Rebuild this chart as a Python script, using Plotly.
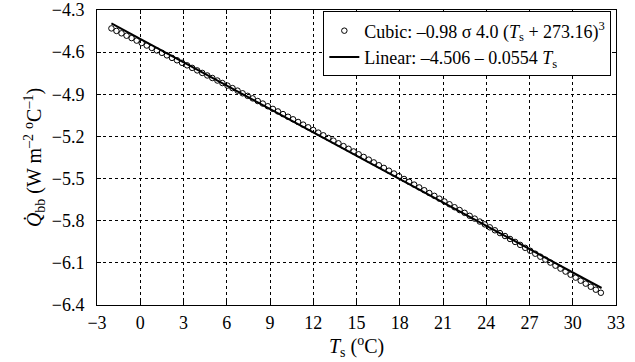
import plotly.graph_objects as go

# Surface temperature (degC) for the cubic points
ts_cubic = [
    -2.00, -1.65, -1.30, -0.95, -0.60, -0.25, 0.10, 0.45, 0.80, 1.15,
    1.50, 1.85, 2.20, 2.55, 2.90, 3.25, 3.60, 3.95, 4.30, 4.65,
    5.00, 5.35, 5.70, 6.05, 6.40, 6.75, 7.10, 7.45, 7.80, 8.15,
    8.50, 8.85, 9.20, 9.55, 9.90, 10.25, 10.60, 10.95, 11.30, 11.65,
    12.00, 12.35, 12.70, 13.05, 13.40, 13.75, 14.10, 14.45, 14.80, 15.15,
    15.50, 15.85, 16.20, 16.55, 16.90, 17.25, 17.60, 17.95, 18.30, 18.65,
    19.00, 19.35, 19.70, 20.05, 20.40, 20.75, 21.10, 21.45, 21.80, 22.15,
    22.50, 22.85, 23.20, 23.55, 23.90, 24.25, 24.60, 24.95, 25.30, 25.65,
    26.00, 26.35, 26.70, 27.05, 27.40, 27.75, 28.10, 28.45, 28.80, 29.15,
    29.50, 29.85, 30.20, 30.55, 30.90, 31.25, 31.60, 31.95,
]

# Q'_bb values of the cubic (W m-2 degC-1)
q_cubic = [
    -4.431, -4.449, -4.466, -4.483, -4.500, -4.518, -4.535, -4.553, -4.570, -4.588,
    -4.605, -4.623, -4.641, -4.658, -4.676, -4.694, -4.712, -4.730, -4.748, -4.766,
    -4.784, -4.802, -4.820, -4.838, -4.856, -4.874, -4.893, -4.911, -4.929, -4.948,
    -4.966, -4.985, -5.004, -5.022, -5.041, -5.060, -5.078, -5.097, -5.116, -5.135,
    -5.154, -5.173, -5.192, -5.211, -5.230, -5.249, -5.269, -5.288, -5.307, -5.327,
    -5.346, -5.365, -5.385, -5.405, -5.424, -5.444, -5.464, -5.483, -5.503, -5.523,
    -5.543, -5.563, -5.583, -5.603, -5.623, -5.643, -5.663, -5.683, -5.704, -5.724,
    -5.744, -5.765, -5.785, -5.806, -5.826, -5.847, -5.868, -5.888, -5.909, -5.930,
    -5.951, -5.972, -5.993, -6.014, -6.035, -6.056, -6.077, -6.098, -6.120, -6.141,
    -6.162, -6.184, -6.205, -6.227, -6.248, -6.270, -6.291, -6.313,
]

# Linear fit end points
ts_linear = [-2.0, 32.0]
q_linear = [-4.395, -6.279]

x_ticks = [-3, 0, 3, 6, 9, 12, 15, 18, 21, 24, 27, 30, 33]
y_ticks = [-6.4, -6.1, -5.8, -5.5, -5.2, -4.9, -4.6, -4.3]

FONT = "'Liberation Serif', 'Times New Roman', 'DejaVu Serif', serif"

fig = go.Figure()
fig.add_trace(go.Scatter(
    x=ts_cubic, y=q_cubic, mode="markers",
    marker=dict(symbol="circle-open", size=5.5, color="black", line=dict(width=1, color="black")),
    name="Cubic: –0.98 σ 4.0 (<i>T</i><sub>s</sub> + 273.16)<sup>3</sup>",
))
fig.add_trace(go.Scatter(
    x=ts_linear, y=q_linear, mode="lines",
    line=dict(color="black", width=2),
    name="Linear: –4.506 – 0.0554 <i>T</i><sub>s</sub>",
))

axis_common = dict(
    showline=True, linecolor="black", linewidth=1, mirror="ticks",
    ticks="inside", ticklen=4, tickcolor="black",
    showgrid=True, gridcolor="black", gridwidth=1, griddash="dot",
    zeroline=False, ticklabeloverflow="allow", automargin=False,
    tickfont=dict(family=FONT, size=18, color="black"),
)

fig.update_layout(
    width=635, height=362,
    margin=dict(l=97, r=19, t=10, b=57),
    paper_bgcolor="white", plot_bgcolor="white",
    font=dict(family=FONT, color="black"),
    showlegend=True,
    legend=dict(
        x=0.991, y=0.995, xanchor="right", yanchor="top",
        bordercolor="black", borderwidth=1, bgcolor="white",
        font=dict(family=FONT, size=18, color="black"),
        tracegroupgap=0, itemwidth=30,
    ),
    xaxis=dict(
        range=[-3, 33], tickvals=x_ticks,
        ticklabelstandoff=1,
        title=dict(text="<i>T</i><sub>s</sub> (<sup>o</sup>C)", font=dict(family=FONT, size=20), standoff=2),
        **axis_common,
    ),
    yaxis=dict(
        range=[-6.4, -4.3], tickvals=y_ticks, tickformat=".1f",
        ticklabelstandoff=8,
        title=dict(text="<i>Q\u0307</i><sub>bb</sub> (W m<sup>–2</sup> <sup>o</sup>C<sup>–1</sup>)", font=dict(family=FONT, size=20), standoff=4),
        **axis_common,
    ),
)

fig.write_html("out.html")
